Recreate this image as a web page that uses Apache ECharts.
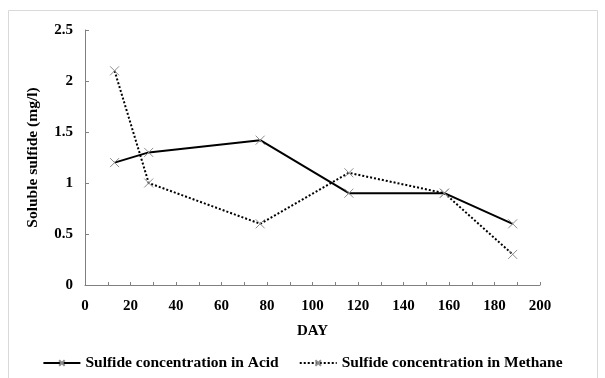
<!DOCTYPE html>
<html>
<head>
<meta charset="utf-8">
<script src="https://cdn.jsdelivr.net/npm/echarts@6/dist/echarts.min.js"></script>
<style>html,body{margin:0;padding:0;background:#fff}#c{width:605px;height:378px}</style>
</head>
<body>
<div id="c"></div>
<script>
const days = [13, 28, 77, 116, 158, 188];
const acid = [1.2, 1.3, 1.42, 0.9, 0.9, 0.6];
const methane = [2.1, 1.0, 0.6, 1.1, 0.9, 0.3];
const seriesNames = ['Sulfide concentration in Acid', 'Sulfide concentration in Methane'];
const xTitle = 'DAY';
const yTitle = 'Soluble sulfide (mg/l)';

const font = '"Liberation Serif", "Times New Roman", serif';
const chart = echarts.init(document.getElementById('c'));
const pair = (xs, ys) => xs.map((x, i) => [x, ys[i]]);
const cross = 'path://M0,0L10,10M10,0L0,10';
chart.setOption({
  animation: false,
  graphic: [{
    type: 'rect', shape: {x: 8.5, y: 10.5, width: 589, height: 400},
    style: {fill: 'none', stroke: '#d9d9d9', lineWidth: 1}, silent: true
  }],
  grid: {left: 85, right: 65, top: 30, bottom: 93},
  xAxis: {
    type: 'value', min: 0, max: 200, interval: 10,
    name: xTitle, nameLocation: 'middle', nameGap: 39,
    nameTextStyle: {fontFamily: font, fontWeight: 'bold', fontSize: 15, color: '#000'},
    axisLine: {lineStyle: {color: '#808080', width: 1}},
    axisTick: {inside: true, length: 3, lineStyle: {color: '#808080'}},
    axisLabel: {fontFamily: font, fontWeight: 'bold', fontSize: 15, color: '#000', margin: 14,
      formatter: v => (v % 20 === 0 ? String(v) : '')},
    splitLine: {show: false}
  },
  yAxis: {
    type: 'value', min: 0, max: 2.5, interval: 0.5,
    name: yTitle, nameLocation: 'middle', nameGap: 44, nameRotate: 90,
    nameTextStyle: {fontFamily: font, fontWeight: 'bold', fontSize: 15.5, color: '#000'},
    axisLine: {show: true, lineStyle: {color: '#808080', width: 1}},
    axisTick: {show: true, inside: true, length: 4, lineStyle: {color: '#808080'}},
    axisLabel: {fontFamily: font, fontWeight: 'bold', fontSize: 15, color: '#000', margin: 12},
    splitLine: {show: false}
  },
  legend: {
    top: 350, left: 'center', itemGap: 20, itemWidth: 37, itemHeight: 7,
    textStyle: {fontFamily: font, fontWeight: 'bold', fontSize: 15.5, color: '#000'},
    data: seriesNames
  },
  series: [
    {
      name: seriesNames[0], type: 'line', data: pair(days, acid),
      symbol: cross, symbolSize: 9,
      itemStyle: {color: '#000', borderColor: '#8c8c8c', borderWidth: 1},
      lineStyle: {color: '#000', width: 2, type: 'solid'}
    },
    {
      name: seriesNames[1], type: 'line', data: pair(days, methane),
      symbol: cross, symbolSize: 9,
      itemStyle: {color: '#000', borderColor: '#8c8c8c', borderWidth: 1},
      lineStyle: {color: '#000', width: 2, type: [2, 2]}
    }
  ]
});
</script>
</body>
</html>
